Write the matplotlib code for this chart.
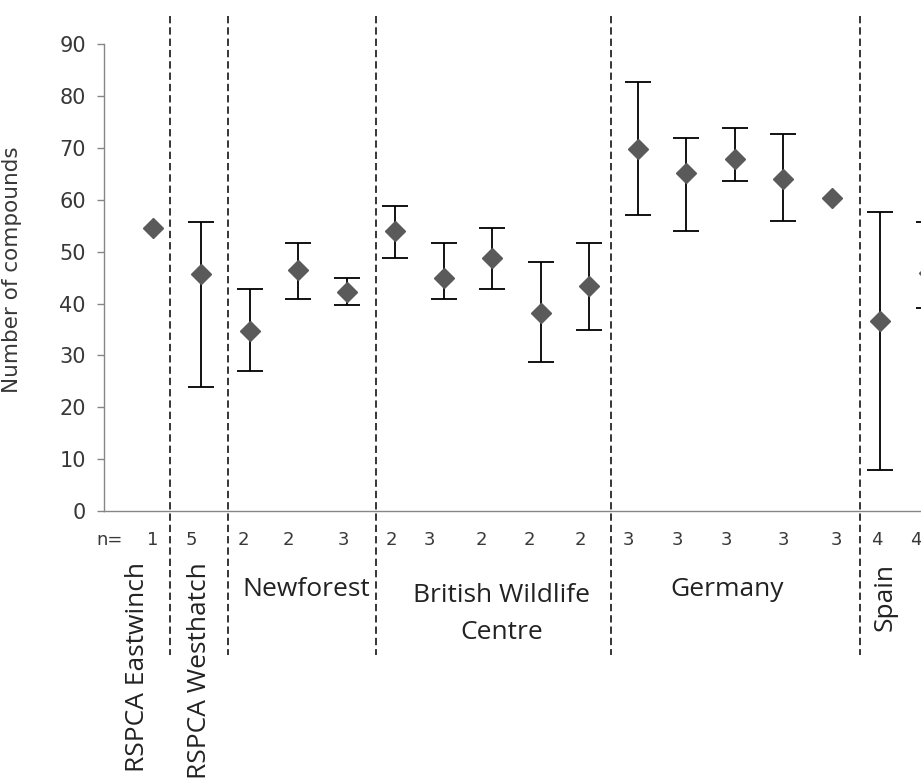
import numpy as np
import matplotlib
matplotlib.use('Agg')
import matplotlib.pyplot as plt
from matplotlib import transforms

# mean and min/max number of compounds per sample (nan = single sample, no range)
means = [54.6, 45.7, 34.8, 46.4, 42.3, 53.9, 45.0, 48.7, 38.1, 43.4,
         69.8, 65.1, 67.8, 64.0, 60.3, 36.6, 45.9]
upper = [np.nan, 55.8, 42.8, 51.7, 44.9, 58.8, 51.7, 54.6, 48.0, 51.7,
         82.8, 71.9, 73.8, 72.7, np.nan, 57.6, 55.8]
lower = [np.nan, 24.0, 27.0, 40.8, 39.7, 48.7, 40.9, 42.8, 28.8, 34.9,
         57.0, 54.0, 63.6, 55.9, np.nan, 7.9, 39.2]
n_counts = [1, 5, 2, 2, 3, 2, 3, 2, 2, 2, 3, 3, 3, 3, 3, 4, 4]

# small nudges of the n= labels (category units)
n_dx = [0.0, -0.2, -0.14, -0.2, -0.07, -0.08, -0.29, -0.23, -0.23, -0.17,
        -0.18, -0.17, -0.16, 0.01, 0.1, -0.07, -0.27]

# group separators and group names
sep_x = [0.357, 1.563, 4.605, 9.455, 14.58]
groups = ['RSPCA Eastwinch', 'RSPCA Westhatch', 'Newforest',
          'British Wildlife\nCentre', 'Germany', 'Spain']

means = np.array(means)
upper = np.array(upper)
lower = np.array(lower)
x = np.arange(len(means))

W, H = 921, 782
fig = plt.figure(figsize=(W / 100, H / 100), dpi=100)
ax = fig.add_axes([104 / W, 1 - 511 / H, (W - 104) / W, 466.7 / H])

grey = '#868686'
txt = '#383838'
ok = np.isfinite(upper)
ax.errorbar(x[ok], means[ok], yerr=[means[ok] - lower[ok], upper[ok] - means[ok]],
            fmt='none', ecolor='black', elinewidth=1.3, capsize=9.5, capthick=1.3,
            zorder=2)
ax.plot(x, means, 'D', ms=10.5, color='#5a5a5a', mec='#5a5a5a', zorder=3)

ax.set_xlim(-1.004, (W - 152.7) / 48.49)
ax.set_ylim(0, 90)
ax.set_yticks(np.arange(0, 91, 10))
ax.set_xticks([])
for s in ['top', 'right']:
    ax.spines[s].set_visible(False)
for s in ['left', 'bottom']:
    ax.spines[s].set_color(grey)
    ax.spines[s].set_linewidth(1.0)
ax.tick_params(axis='y', length=5, width=1, color=grey, pad=8,
               labelsize=15, labelcolor=txt)
ax.set_ylabel('Number of compounds', fontsize=15.5, color=txt)
ax.yaxis.set_label_coords(-0.1004, 0.516)

# x in data units, y in figure fraction (pixels from top)
tr = transforms.blended_transform_factory(ax.transData, fig.transFigure)
def fy(py):
    return 1 - py / H

for sx in sep_x:
    ax.plot([sx, sx], [fy(16), fy(655)], transform=tr, clip_on=False,
            color='black', lw=1.1, ls=(0, (4.8, 2.6)), zorder=1)

# n= row
ax.text(-0.88, fy(540), 'n=', transform=tr, ha='center', va='center',
        fontsize=13, color=txt)
for xi, n, dx in zip(x, n_counts, n_dx):
    ax.text(xi + dx, fy(540), str(n), transform=tr, ha='center', va='center',
            fontsize=13, color=txt, clip_on=False)

lab = dict(transform=tr, fontsize=19, family='Open Sans', color='#222222')
ax.text(-0.32, fy(562), groups[0], rotation=90, ha='center', va='top', **lab)
ax.text(0.975, fy(562), groups[1], rotation=90, ha='center', va='top', **lab)
ax.text(3.16, fy(589), groups[2], ha='center', va='center', **lab)
ax.text(7.2, fy(614), groups[3], ha='center', va='center',
        multialignment='center', linespacing=1.6, **lab)
ax.text(11.85, fy(589), groups[4], ha='center', va='center', **lab)
ax.text(15.11, fy(597), groups[5], rotation=90, ha='center', va='center', **lab)

fig.savefig('out.png', dpi=100)
